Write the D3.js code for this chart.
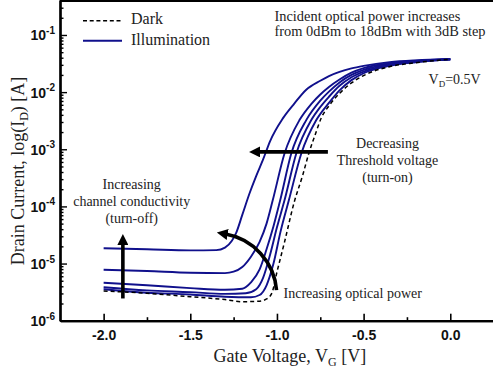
<!DOCTYPE html>
<html>
<head>
<meta charset="utf-8">
<script src="https://cdn.jsdelivr.net/npm/d3@7"></script>
<style>
  body { margin: 0; background: #fff; }
  svg { display: block; }
  .tick-label { font-family: "Liberation Sans", Arial, sans-serif; font-weight: bold; font-size: 14px; }
  .serif { font-family: "Liberation Serif", "Times New Roman", serif; fill: #222; }
</style>
</head>
<body>
<div id="chart"></div>
<script>
// gate voltage (V) / drain current (A)
const darkCurve = [
  [-2.0, 3.31e-6], [-1.75, 3.02e-6], [-1.5, 2.63e-6], [-1.3, 2.34e-6], [-1.2, 2.15e-6],
  [-1.1, 2.19e-6], [-1.06, 2.4e-6], [-1.03, 3.0e-6], [-1.0, 7.1e-6], [-0.956, 2.4e-5],
  [-0.9, 1.2e-4], [-0.851, 3.55e-4], [-0.816, 8.5e-4], [-0.78, 1.78e-3], [-0.744, 3.55e-3],
  [-0.7, 5.75e-3], [-0.639, 9.5e-3], [-0.57, 1.45e-2], [-0.5, 1.95e-2], [-0.35, 2.79e-2],
  [-0.2, 3.27e-2], [0, 3.76e-2]
];
const illum18 = [
  [-2.0, 1.85e-5], [-1.75, 1.78e-5], [-1.5, 1.7e-5], [-1.35, 1.72e-5], [-1.3, 1.9e-5],
  [-1.26, 2.5e-5], [-1.236, 3.4e-5], [-1.2, 7.1e-5], [-1.158, 1.7e-4], [-1.12, 3.4e-4],
  [-1.081, 6.5e-4], [-1.04, 1.38e-3], [-0.966, 3.47e-3], [-0.9, 6.3e-3], [-0.831, 1.1e-2],
  [-0.75, 1.58e-2], [-0.7, 1.91e-2], [-0.639, 2.26e-2], [-0.57, 2.6e-2], [-0.5, 2.88e-2],
  [-0.35, 3.35e-2], [-0.2, 3.6e-2], [0, 3.76e-2]
];
const illum15 = [
  [-2.0, 7.8e-6], [-1.75, 7.4e-6], [-1.5, 6.9e-6], [-1.3, 6.8e-6], [-1.25, 7.2e-6],
  [-1.2, 8.7e-6], [-1.15, 1.32e-5], [-1.1, 2.4e-5], [-1.06, 5.0e-5], [-1.024, 1.29e-4],
  [-0.956, 8.5e-4], [-0.87, 3.24e-3], [-0.8, 6.3e-3], [-0.75, 9.1e-3], [-0.7, 1.23e-2],
  [-0.639, 1.66e-2], [-0.57, 2.19e-2], [-0.5, 2.63e-2], [-0.35, 3.2e-2], [-0.2, 3.53e-2], [0, 3.76e-2]
];
const illum12 = [
  [-2.0, 4.62e-6], [-1.75, 4.17e-6], [-1.5, 3.72e-6], [-1.3, 3.47e-6], [-1.2, 3.63e-6],
  [-1.15, 4.68e-6], [-1.1, 7.9e-6], [-1.06, 1.78e-5], [-1.02, 4.5e-5], [-0.981, 1.29e-4],
  [-0.917, 8.5e-4], [-0.831, 3.24e-3], [-0.75, 7.1e-3], [-0.7, 1.02e-2], [-0.639, 1.48e-2],
  [-0.57, 2.0e-2], [-0.5, 2.45e-2], [-0.35, 3.09e-2], [-0.2, 3.47e-2], [0, 3.76e-2]
];
const illum9 = [
  [-2.0, 3.85e-6], [-1.75, 3.39e-6], [-1.5, 3.16e-6], [-1.3, 2.95e-6], [-1.18, 3.02e-6],
  [-1.12, 3.55e-6], [-1.08, 5.6e-6], [-1.04, 1.41e-5], [-1.0, 4.3e-5], [-0.956, 1.29e-4],
  [-0.888, 8.5e-4], [-0.802, 3.24e-3], [-0.75, 5.5e-3], [-0.7, 8.3e-3], [-0.639, 1.29e-2],
  [-0.57, 1.82e-2], [-0.5, 2.29e-2], [-0.35, 2.99e-2], [-0.2, 3.4e-2], [0, 3.76e-2]
];
const illum6 = [
  [-2.0, 3.55e-6], [-1.75, 3.09e-6], [-1.5, 2.88e-6], [-1.3, 2.63e-6], [-1.15, 2.57e-6],
  [-1.1, 2.82e-6], [-1.06, 4.17e-6], [-1.02, 1.0e-5], [-0.98, 3.55e-5], [-0.931, 1.29e-4],
  [-0.859, 8.5e-4], [-0.773, 3.24e-3], [-0.7, 6.46e-3], [-0.639, 1.07e-2], [-0.57, 1.62e-2],
  [-0.5, 2.14e-2], [-0.35, 2.88e-2], [-0.2, 3.34e-2], [0, 3.76e-2]
];
const illumCurves = [illum18, illum15, illum12, illum9, illum6];

const xTicks = [-2.0, -1.5, -1.0, -0.5, 0.0];
const xMinorTicks = [-1.75, -1.25, -0.75, -0.25];
const yDecades = [-6, -5, -4, -3, -2, -1];

const width = 493, height = 370;
const margin = {left: 60, top: 0, bottom: 320.7};
const blue = "#10108c";

const svg = d3.select("#chart").append("svg")
  .attr("width", width).attr("height", height);

const x = d3.scaleLinear().domain([-2.25, 0.25]).range([60.3, 493.6]);
const y = d3.scaleLog().domain([1e-6, Math.pow(10, -0.388)]).range([margin.bottom, 0]);

// frame: top line
svg.append("line")
  .attr("x1", margin.left).attr("x2", width).attr("y1", 1).attr("y2", 1)
  .attr("stroke", "#000").attr("stroke-width", 2);

// x axis
const gx = svg.append("g").attr("transform", "translate(0," + margin.bottom + ")");
gx.call(d3.axisBottom(x).tickValues(xMinorTicks).tickSize(-3.5).tickSizeOuter(0).tickFormat(""));
const gxMajor = gx.append("g").call(d3.axisBottom(x).tickValues(xTicks).tickSize(-7).tickSizeOuter(0)
  .tickFormat(d3.format(".1f")));
gx.selectAll(".domain").attr("stroke-width", 2.2);
gx.selectAll(".tick line").attr("stroke-width", 1.6);
gxMajor.selectAll(".tick text").attr("class", "tick-label").attr("dy", null).attr("y", 19)
  .attr("fill", "#111").text(d => d3.format(".1f")(d).replace("−", "-"));

// y axis (log, with minor ticks)
const minorY = [];
yDecades.forEach(e => { for (let k = 2; k <= 9; k++) { const v = k * Math.pow(10, e); if (v < y.domain()[1]) minorY.push(v); } });
const gy = svg.append("g").attr("transform", "translate(" + margin.left + ",0)");
gy.call(d3.axisLeft(y).tickValues(minorY).tickSize(-3.5).tickSizeOuter(0).tickFormat(""));
gy.append("g").call(d3.axisLeft(y).tickValues(yDecades.map(e => Math.pow(10, e)))
  .tickSize(-7).tickSizeOuter(0).tickFormat(""));
gy.selectAll(".domain").attr("stroke-width", 2.2);
gy.selectAll(".tick line").attr("stroke-width", 1.4);

const yLab = svg.append("g").selectAll("text").data(yDecades).join("text")
  .attr("class", "tick-label").attr("text-anchor", "end")
  .attr("x", 55).attr("y", e => y(Math.pow(10, e)) + 5.5).attr("fill", "#111");
yLab.append("tspan").text("10");
yLab.append("tspan").attr("dy", -6.5).attr("font-size", "10px").text(e => "-" + Math.abs(e));

// curves
const line = d3.line().x(d => x(d[0])).y(d => y(d[1])).curve(d3.curveMonotoneX);
const plot = svg.append("g");
plot.selectAll(".illum").data(illumCurves).join("path")
  .attr("class", "illum").attr("d", line)
  .attr("fill", "none").attr("stroke", blue).attr("stroke-width", 1.9);
plot.append("path").datum(darkCurve).attr("d", line)
  .attr("fill", "none").attr("stroke", "#000").attr("stroke-width", 1.5)
  .attr("stroke-dasharray", "4,3");

// legend
const legend = svg.append("g");
legend.append("line").attr("x1", 83).attr("x2", 122).attr("y1", 20.7).attr("y2", 20.7)
  .attr("stroke", "#000").attr("stroke-width", 1.5).attr("stroke-dasharray", "4,2.7");
legend.append("line").attr("x1", 83).attr("x2", 122).attr("y1", 40.7).attr("y2", 40.7)
  .attr("stroke", blue).attr("stroke-width", 1.9);
legend.append("text").attr("class", "serif").attr("x", 131).attr("y", 23.5)
  .attr("font-size", "16px").text("Dark");
legend.append("text").attr("class", "serif").attr("x", 131).attr("y", 45.3)
  .attr("font-size", "16px").text("Illumination");

// annotations
function textBlock(lines, cx, y0, dy, anchor, size) {
  svg.append("g").selectAll("text").data(lines).join("text")
    .attr("class", "serif").attr("font-size", (size || 14) + "px")
    .attr("text-anchor", anchor).attr("x", cx).attr("y", (d, i) => y0 + i * dy)
    .text(d => d);
}
textBlock(["Incident optical power increases", "from 0dBm to 18dBm with 3dB step"], 274.5, 20.8, 15.6, "start", 14.4);
textBlock(["Decreasing", "Threshold voltage", "(turn-on)"], 387.5, 148.3, 16.7, "middle");
textBlock(["Increasing", "channel conductivity", "(turn-off)"], 131.7, 188.5, 17.1, "middle");
textBlock(["Increasing optical power"], 283.5, 297.8, 0, "start");

const vd = svg.append("text").attr("class", "serif").attr("font-size", "14px")
  .attr("x", 428.5).attr("y", 83.5);
vd.append("tspan").text("V");
vd.append("tspan").attr("font-size", "9px").attr("dy", 3).text("D");
vd.append("tspan").attr("dy", -3).text("=0.5V");

// arrows
const defs = svg.append("defs");
defs.append("marker").attr("id", "head").attr("viewBox", "0 0 10 10")
  .attr("refX", 2).attr("refY", 5).attr("markerUnits", "userSpaceOnUse")
  .attr("markerWidth", 11).attr("markerHeight", 11).attr("orient", "auto")
  .append("path").attr("d", "M0,0 L10,5 L0,10 Z").attr("fill", "#000");

// decreasing threshold voltage
svg.append("line")
  .attr("x1", x(-0.706)).attr("x2", x(-1.11)).attr("y1", y(9e-4)).attr("y2", y(9e-4))
  .attr("stroke", "#000").attr("stroke-width", 3.6).attr("marker-end", "url(#head)");
// increasing channel conductivity
svg.append("line")
  .attr("x1", x(-1.889)).attr("x2", x(-1.889)).attr("y1", y(2.45e-6)).attr("y2", y(2.3e-5))
  .attr("stroke", "#000").attr("stroke-width", 3.6).attr("marker-end", "url(#head)");
// increasing optical power (curved)
const cx = x(-1.359), cy = y(2.8e-6), r = 62;
const arcPath = d3.path();
arcPath.arc(cx, cy, r, -4.6 * Math.PI / 180, -80 * Math.PI / 180, true);
svg.append("path").attr("d", arcPath.toString())
  .attr("fill", "none").attr("stroke", "#000").attr("stroke-width", 3.6)
  .attr("marker-end", "url(#head)");

// axis titles
const xt = svg.append("text").attr("class", "serif").attr("font-size", "18px")
  .attr("x", 213.5).attr("y", 361.5);
xt.append("tspan").text("Gate Voltage, V");
xt.append("tspan").attr("font-size", "12px").attr("dy", 4).text("G");
xt.append("tspan").attr("dy", -4).text(" [V]");

const yt = svg.append("text").attr("class", "serif").attr("font-size", "18px")
  .attr("text-anchor", "middle")
  .attr("transform", "translate(23.5,171) rotate(-90)");
yt.append("tspan").text("Drain Current, log(I");
yt.append("tspan").attr("font-size", "12px").attr("dy", 4).text("D");
yt.append("tspan").attr("dy", -4).text(") [A]");
</script>
</body>
</html>
